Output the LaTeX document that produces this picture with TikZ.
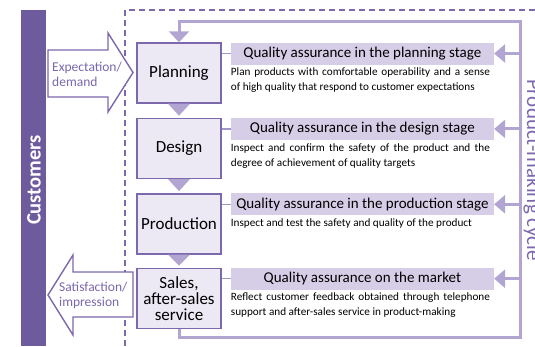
\documentclass[tikz,border=0pt]{standalone}
\usepackage{fontspec}
\setmainfont{Carlito}
\usetikzlibrary{arrows.meta,positioning,calc}
\definecolor{custpurple}{HTML}{6E5B9E}
\definecolor{linepurple}{HTML}{7B68AD}
\definecolor{boxfill}{HTML}{ECE8F4}
\definecolor{headfill}{HTML}{D6CDE7}
\definecolor{tripurple}{HTML}{B3A5D2}
\tikzset{
  stagebox/.style={rectangle,draw=linepurple,line width=1.4pt,fill=boxfill,
    minimum width=84pt,minimum height=60pt,align=center,inner sep=1pt,
    font=\fontsize{17}{16}\selectfont},
  headbox/.style={rectangle,fill=headfill,minimum width=263pt,minimum height=22pt,
    inner sep=0pt,font=\fontsize{15}{16}\selectfont},
  desctext/.style={text width=259pt,align=justify,inner sep=0pt,
    font=\fontsize{11.2}{15}\selectfont},
  bigarrow/.style={draw=linepurple,fill=white,line width=1.4pt,line join=miter},
  arrowtext/.style={text=linepurple,align=left,inner sep=0pt,
    font=\fontsize{13.5}{15}\selectfont},
  stub/.style={draw=linepurple!70,line width=1.4pt},
  stagetri/.style={fill=tripurple},
  looparrow/.style={draw=tripurple,line width=3pt,
    -{Triangle[length=11pt,width=20pt]}},
  fbarrow/.style={draw=tripurple,line width=3pt,
    -{Triangle[length=11pt,width=18pt]}},
  cutline/.style={draw=linepurple,line width=1.2pt,dash pattern=on 6pt off 4pt},
}

\begin{document}
\begin{tikzpicture}[x=1pt,y=-1pt]
  \clip (0,0) rectangle (535,346);
  \useasboundingbox (0,0) rectangle (535,346);

  %% -- Customers bar and dashed boundary -------------------------------------
  \fill[custpurple] (21,10) rectangle (46,346);
  \node[rotate=90,text=white,font=\fontsize{20.5}{20}\selectfont\bfseries]
    (cust) at (34,180) {Customers};
  \draw[cutline] (125,346) -- (125,10) -- (540,10);

  %% -- Stages ----------------------------------------------------------------
  \node[stagebox] (plan) at (179,73) {Planning};
  \node[stagebox, below=14pt of plan]  (design) {Design};
  \node[stagebox, below=14pt of design] (prod)  {Production};
  \node[stagebox, below=13pt of prod]  (sales)  {Sales,\\after-sales\\service};

  \fill[stagetri] ($(plan.south)+(-11,0)$) -- ($(plan.south)+(11,0)$)
    -- ($(design.north)+(0,-2)$) -- cycle;
  \fill[stagetri] ($(design.south)+(-11,0)$) -- ($(design.south)+(11,0)$)
    -- ($(prod.north)+(0,-2)$) -- cycle;
  \fill[stagetri] ($(prod.south)+(-11,0)$) -- ($(prod.south)+(11,0)$)
    -- ($(sales.north)+(0,-2)$) -- cycle;

  %% -- Quality assurance headers and descriptions ----------------------------
  \node[headbox, anchor=north west] (planhd) at ([xshift=9pt]plan.north east)
    {Quality assurance in the planning stage};
  \node[desctext, below right=3pt and 0pt of planhd.south west] (plandesc)
    {Plan products with comfortable operability and a sense\linebreak
     of high quality that respond to customer expectations};

  \node[headbox, anchor=north west] (designhd) at ([xshift=9pt]design.north east)
    {Quality assurance in the design stage};
  \node[desctext, below right=3pt and 0pt of designhd.south west] (designdesc)
    {Inspect and confirm the safety of the product and the\linebreak
     degree of achievement of quality targets};

  \node[headbox, anchor=north west] (prodhd) at ([xshift=9pt]prod.north east)
    {Quality assurance in the production stage};
  \node[desctext, below right=3pt and 0pt of prodhd.south west] (proddesc)
    {Inspect and test the safety and quality of the product};

  \node[headbox, anchor=north west] (saleshd) at ([xshift=9pt]sales.north east)
    {Quality assurance on the market};
  \node[desctext, below right=3pt and 0pt of saleshd.south west] (salesdesc)
    {Reflect customer feedback obtained through telephone\linebreak
     support and after-sales service in product-making};

  \draw[stub] (planhd.west -| plan.east)     -- (planhd.west);
  \draw[stub] (designhd.west -| design.east) -- (designhd.west);
  \draw[stub] (prodhd.west -| prod.east)     -- (prodhd.west);
  \draw[stub] (saleshd.west -| sales.east)   -- (saleshd.west);

  %% -- Product-making cycle loop ---------------------------------------------
  \coordinate (looptr) at (520,21);
  \coordinate (loopbr) at (520,337);
  \draw[looparrow] (sales.south) |- (loopbr) -- (looptr) -| (plan.north);
  \draw[fbarrow] (planhd.east -| looptr)   -- (planhd.east);
  \draw[fbarrow] (designhd.east -| looptr) -- (designhd.east);
  \draw[fbarrow] (prodhd.east -| looptr)   -- (prodhd.east);
  \draw[fbarrow] (saleshd.east -| looptr)  -- (saleshd.east);
  \node[rotate=-90,anchor=base,text=linepurple,font=\fontsize{21}{21}\selectfont]
    (cyclelbl) at (527,170) {Product-making cycle};

  %% -- Customer arrows -------------------------------------------------------
  \draw[bigarrow] (48,50) -- (108,50) -- (108,33) -- (133,72.5)
    -- (108,112) -- (108,97) -- (48,97) -- cycle;
  \node[arrowtext, anchor=west] (expect) at (52,74) {Expectation/\\demand};
  \draw[bigarrow] (133,272) -- (73,272) -- (73,255) -- (48,295)
    -- (73,335) -- (73,317) -- (133,317) -- cycle;
  \node[arrowtext, anchor=west] (satis) at (59,295) {Satisfaction/\\impression};
\end{tikzpicture}
\end{document}
